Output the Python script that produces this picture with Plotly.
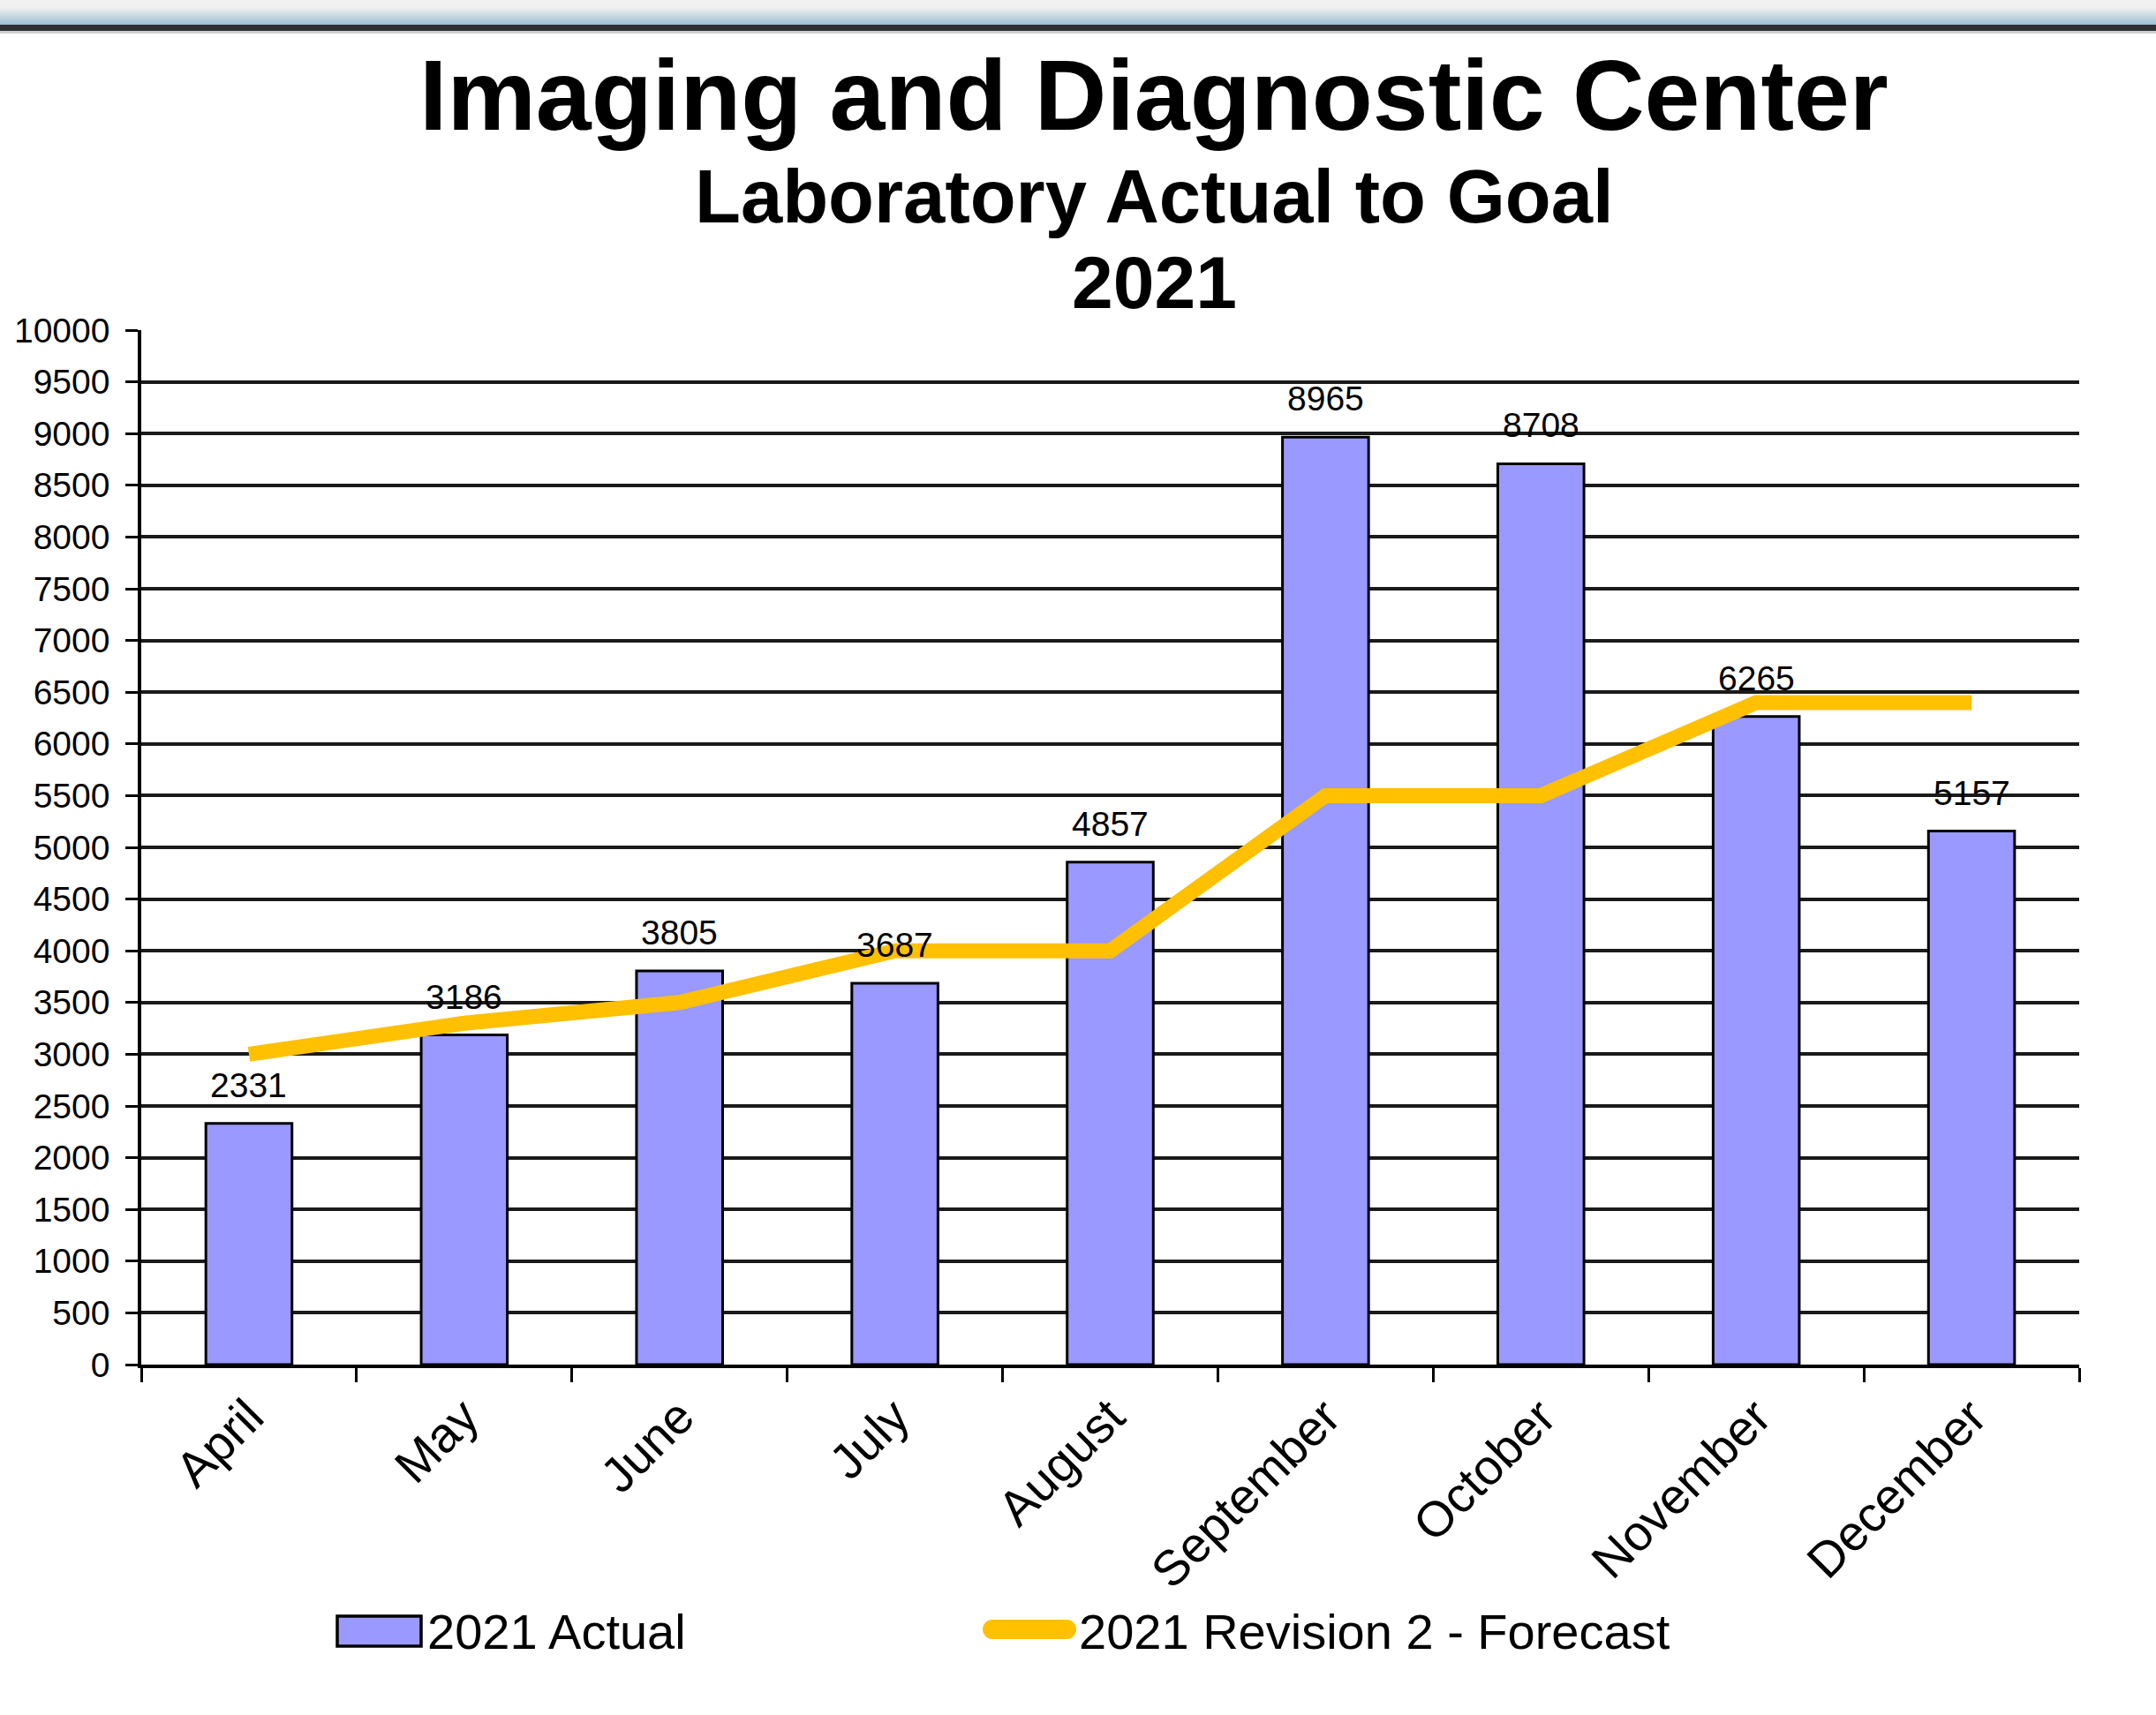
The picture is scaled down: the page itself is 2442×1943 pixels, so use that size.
import plotly.graph_objects as go

months = ["April", "May", "June", "July", "August", "September", "October", "November", "December"]
actual_2021 = [2331, 3186, 3805, 3687, 4857, 8965, 8708, 6265, 5157]
forecast_rev2 = [3000, 3300, 3500, 4000, 4000, 5500, 5500, 6400, 6400]
y_ticks = list(range(0, 10001, 500))

W, H = 2442, 1943
L, R, T, B = 160, 2355, 374, 1546  # plot area in pixels


def px(x):
    return (x - L) / (R - L)


def py(y):
    return (B - y) / (B - T)


FONT = "Liberation Sans, Arial, Helvetica, sans-serif"
BAR_COLOR = "#9999FF"
LINE_COLOR = "#FFC000"

fig = go.Figure()
fig.add_trace(go.Bar(
    x=months, y=actual_2021, name="2021 Actual",
    marker=dict(color=BAR_COLOR, line=dict(color="black", width=3)),
    width=0.4, showlegend=False,
))
fig.add_trace(go.Scatter(
    x=months, y=forecast_rev2, name="2021 Revision 2 - Forecast",
    mode="lines", line=dict(color=LINE_COLOR, width=17), showlegend=False,
))

annotations = []
# data labels
for m, v in zip(months, actual_2021):
    annotations.append(dict(
        x=m, y=v, xref="x", yref="y", text=str(v), showarrow=False,
        yanchor="bottom", xanchor="center", yshift=20,
        font=dict(family=FONT, size=39, color="black"),
    ))

# titles
titles = [
    ("Imaging and Diagnostic Center", 113, 108),
    ("Laboratory Actual to Goal", 85, 223),
    ("2021", 84, 320),
]
for text, size, ycen in titles:
    annotations.append(dict(
        x=px(1307), y=py(ycen), xref="paper", yref="paper", text=f"<b>{text}</b>",
        showarrow=False, xanchor="center", yanchor="middle",
        font=dict(family=FONT, size=size, color="black"),
    ))

# legend texts
annotations.append(dict(
    x=px(482), y=py(1848), xref="paper", yref="paper", text="2021 Actual",
    showarrow=False, xanchor="left", yanchor="middle",
    font=dict(family=FONT, size=56, color="black"),
))
annotations.append(dict(
    x=px(1220), y=py(1848), xref="paper", yref="paper", text="2021 Revision 2 - Forecast",
    showarrow=False, xanchor="left", yanchor="middle",
    font=dict(family=FONT, size=56, color="black"),
))

shapes = []
# legend swatches
shapes.append(dict(type="rect", xref="paper", yref="paper",
                   x0=px(382), x1=px(477), y0=py(1865), y1=py(1831),
                   fillcolor=BAR_COLOR, line=dict(color="black", width=3.5)))
shapes.append(dict(type="path", xref="paper", yref="paper",
                   path="M %f,%f L %f,%f" % (px(1124), py(1846), px(1208), py(1846)),
                   line=dict(color=LINE_COLOR, width=22)))
shapes.append(dict(type="circle", xref="paper", yref="paper",
                   x0=px(1113), x1=px(1135), y0=py(1857), y1=py(1835),
                   fillcolor=LINE_COLOR, line=dict(width=0)))
shapes.append(dict(type="circle", xref="paper", yref="paper",
                   x0=px(1197), x1=px(1219), y0=py(1857), y1=py(1835),
                   fillcolor=LINE_COLOR, line=dict(width=0)))

# top window band (decorative)
def lerp(c1, c2, t):
    return "rgb(%d,%d,%d)" % tuple(round(a + (b - a) * t) for a, b in zip(c1, c2))

shapes.append(dict(type="rect", xref="paper", yref="paper", x0=px(0), x1=px(W),
                   y0=py(8), y1=py(0), fillcolor="#f0f0f0", line=dict(width=0), layer="above"))
n = 10
for i in range(n):
    y0 = 8 + i * 2
    shapes.append(dict(type="rect", xref="paper", yref="paper", x0=px(0), x1=px(W),
                       y0=py(y0 + 2), y1=py(y0),
                       fillcolor=lerp((236, 239, 241), (162, 194, 211), i / (n - 1)),
                       line=dict(width=0), layer="above"))
shapes.append(dict(type="rect", xref="paper", yref="paper", x0=px(0), x1=px(W),
                   y0=py(35), y1=py(28), fillcolor="#2f3234", line=dict(width=0), layer="above"))
shapes.append(dict(type="rect", xref="paper", yref="paper", x0=px(0), x1=px(W),
                   y0=py(38), y1=py(35), fillcolor="#d0d0d0", line=dict(width=0), layer="above"))

fig.update_layout(
    width=W, height=H,
    margin=dict(l=L, r=W - R, t=T, b=H - B, pad=0),
    paper_bgcolor="white", plot_bgcolor="white",
    font=dict(family=FONT, color="black"),
    annotations=annotations, shapes=shapes,
    showlegend=False,
    bargap=0.6,
)
fig.update_xaxes(
    type="category", range=[-0.5, len(months) - 0.5],
    showline=True, linecolor="black", linewidth=3.5,
    ticks="outside", tickson="boundaries", ticklen=16, tickwidth=3, tickcolor="black",
    tickangle=-45, tickfont=dict(family=FONT, size=56, color="black"),
    showgrid=False, zeroline=False,
)
fig.update_yaxes(
    range=[0, 10000], tickvals=y_ticks, ticktext=[str(t) for t in y_ticks],
    showline=True, linecolor="black", linewidth=3.5,
    ticks="outside", ticklen=14, tickwidth=3, tickcolor="black",
    tickfont=dict(family=FONT, size=39, color="black"),
    showgrid=True, gridcolor="#1a1a1a", gridwidth=3.5, zeroline=False,
    ticklabelstandoff=10,
)

fig.write_html(
    "out.html",
    config={"displayModeBar": False},
    post_script="document.body.style.margin='0';document.body.style.overflow='hidden';",
)
